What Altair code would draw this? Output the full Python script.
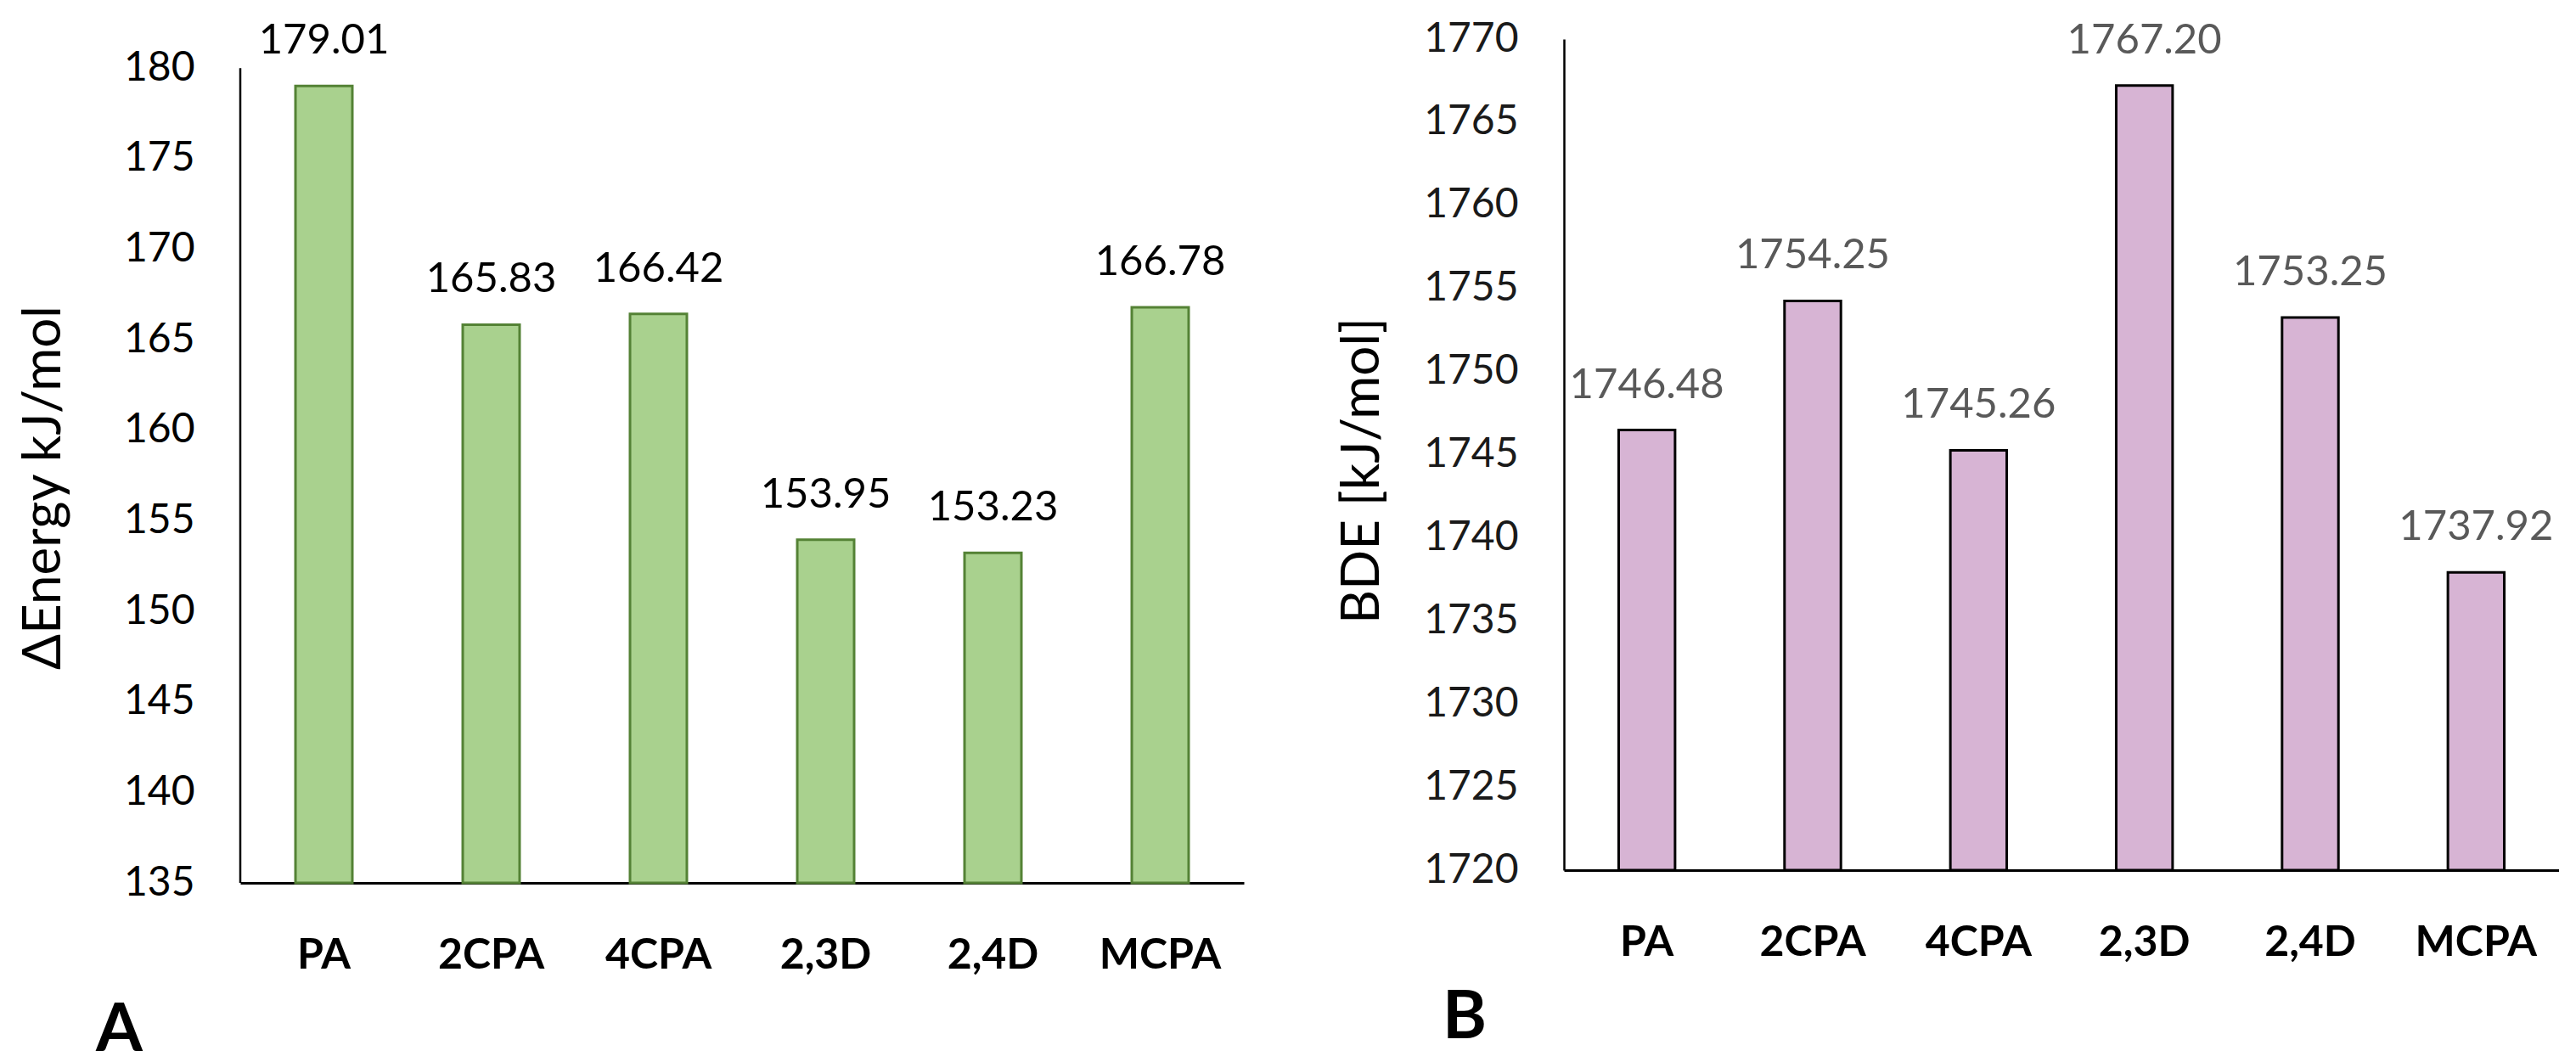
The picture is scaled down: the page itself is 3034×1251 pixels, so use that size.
import altair as alt
import pandas as pd

categories = ["PA", "2CPA", "4CPA", "2,3D", "2,4D", "MCPA"]
energy = [179.01, 165.83, 166.42, 153.95, 153.23, 166.78]
bde = [1746.48, 1754.25, 1745.26, 1767.20, 1753.25, 1737.92]
energy_ticks = [135, 140, 145, 150, 155, 160, 165, 170, 175, 180]
bde_ticks = [1720, 1725, 1730, 1735, 1740, 1745, 1750, 1755, 1760, 1765, 1770]

FONT = "Lato"

df_a = pd.DataFrame({"cat": categories, "v": energy, "base": [energy_ticks[0]] * 6})
df_b = pd.DataFrame({"cat": categories, "v": bde, "base": [bde_ticks[0]] * 6})


def xaxis():
    return alt.Axis(title=None, labelAngle=0, labelFont=FONT, labelFontWeight="bold",
                    labelFontSize=50, labelColor="black", labelPadding=100,
                    labelBaseline="alphabetic", ticks=False, tickSize=0,
                    domainColor="black", domainWidth=3)


# Panel A
xa = alt.X("cat:N", sort=categories,
           scale=alt.Scale(paddingInner=0.66, paddingOuter=0.33), axis=xaxis())
ya = alt.Y("v:Q", scale=alt.Scale(domain=[135, 181.6], nice=False, zero=False),
           axis=alt.Axis(values=energy_ticks, format="d", domain=False, ticks=False, tickSize=0,
                         grid=False, labelFont=FONT, labelFontSize=48, labelColor="black",
                         labelPadding=54,
                         title="ΔEnergy kJ/mol", titleFont=FONT, titleFontSize=62,
                         titleFontWeight="normal", titleColor="black", titleX=-213, titleY=528,
                         titleAngle=270, titleBaseline="alphabetic", titleAlign="center"))

base_a = alt.Chart(df_a)
bars_a = base_a.mark_bar(fill="#A9D18E", stroke="#548235", strokeWidth=3).encode(
    x=xa, y=ya, y2="base:Q")
text_a = base_a.mark_text(dy=-38, baseline="alphabetic", font=FONT, fontSize=49,
                          color="black").encode(
    x=alt.X("cat:N", sort=categories), y="v:Q", text=alt.Text("v:Q", format=".2f"))
rule_a = alt.Chart(pd.DataFrame({"y": [energy_ticks[-1]], "y2": [energy_ticks[0]]})).mark_rule(
    color="black", strokeWidth=2.5).encode(x=alt.value(0), y="y:Q", y2="y2:Q")

panel_a = alt.layer(bars_a, text_a, rule_a).properties(
    width=1182, height=994,
    title=alt.TitleParams("A", orient="bottom", anchor="start", frame="group",
                          font=FONT, fontSize=79, fontWeight="bold", color="black",
                          dx=-170, offset=26))

# Panel B
xb = alt.X("cat:N", sort=categories,
           scale=alt.Scale(paddingInner=0.66, paddingOuter=0.33), axis=xaxis())
yb = alt.Y("v:Q", scale=alt.Scale(domain=[1720, 1770], nice=False, zero=False),
           axis=alt.Axis(values=bde_ticks, format="d", domain=True, domainColor="black",
                         domainWidth=2.5, ticks=False, tickSize=0, grid=False,
                         labelFont=FONT, labelFontSize=48, labelColor="#1a1a1a", labelPadding=54,
                         title="BDE [kJ/mol]", titleFont=FONT, titleFontSize=62,
                         titleFontWeight="normal", titleColor="black", titleX=-219, titleY=508,
                         titleAngle=270, titleBaseline="alphabetic", titleAlign="center"))

base_b = alt.Chart(df_b)
bars_b = base_b.mark_bar(fill="#D7B4D4", stroke="black", strokeWidth=3).encode(
    x=xb, y=yb, y2="base:Q")
text_b = base_b.mark_text(dy=-38, baseline="alphabetic", font=FONT, fontSize=49,
                          color="#595959").encode(
    x=alt.X("cat:N", sort=categories), y="v:Q", text=alt.Text("v:Q", format=".2f"))

panel_b = alt.layer(bars_b, text_b).properties(
    width=1172, height=979,
    title=alt.TitleParams("B", orient="bottom", anchor="start", frame="group",
                          font=FONT, fontSize=79, fontWeight="bold", color="black",
                          dx=-143, offset=26))

chart = alt.hconcat(panel_a, panel_b, spacing=377, bounds="flush").properties(
    padding={"left": 12, "top": 14, "right": 0, "bottom": 0},
    background="white",
).configure_view(stroke=None)

chart.save("out.html", embed_options={"renderer": "svg", "actions": False})
